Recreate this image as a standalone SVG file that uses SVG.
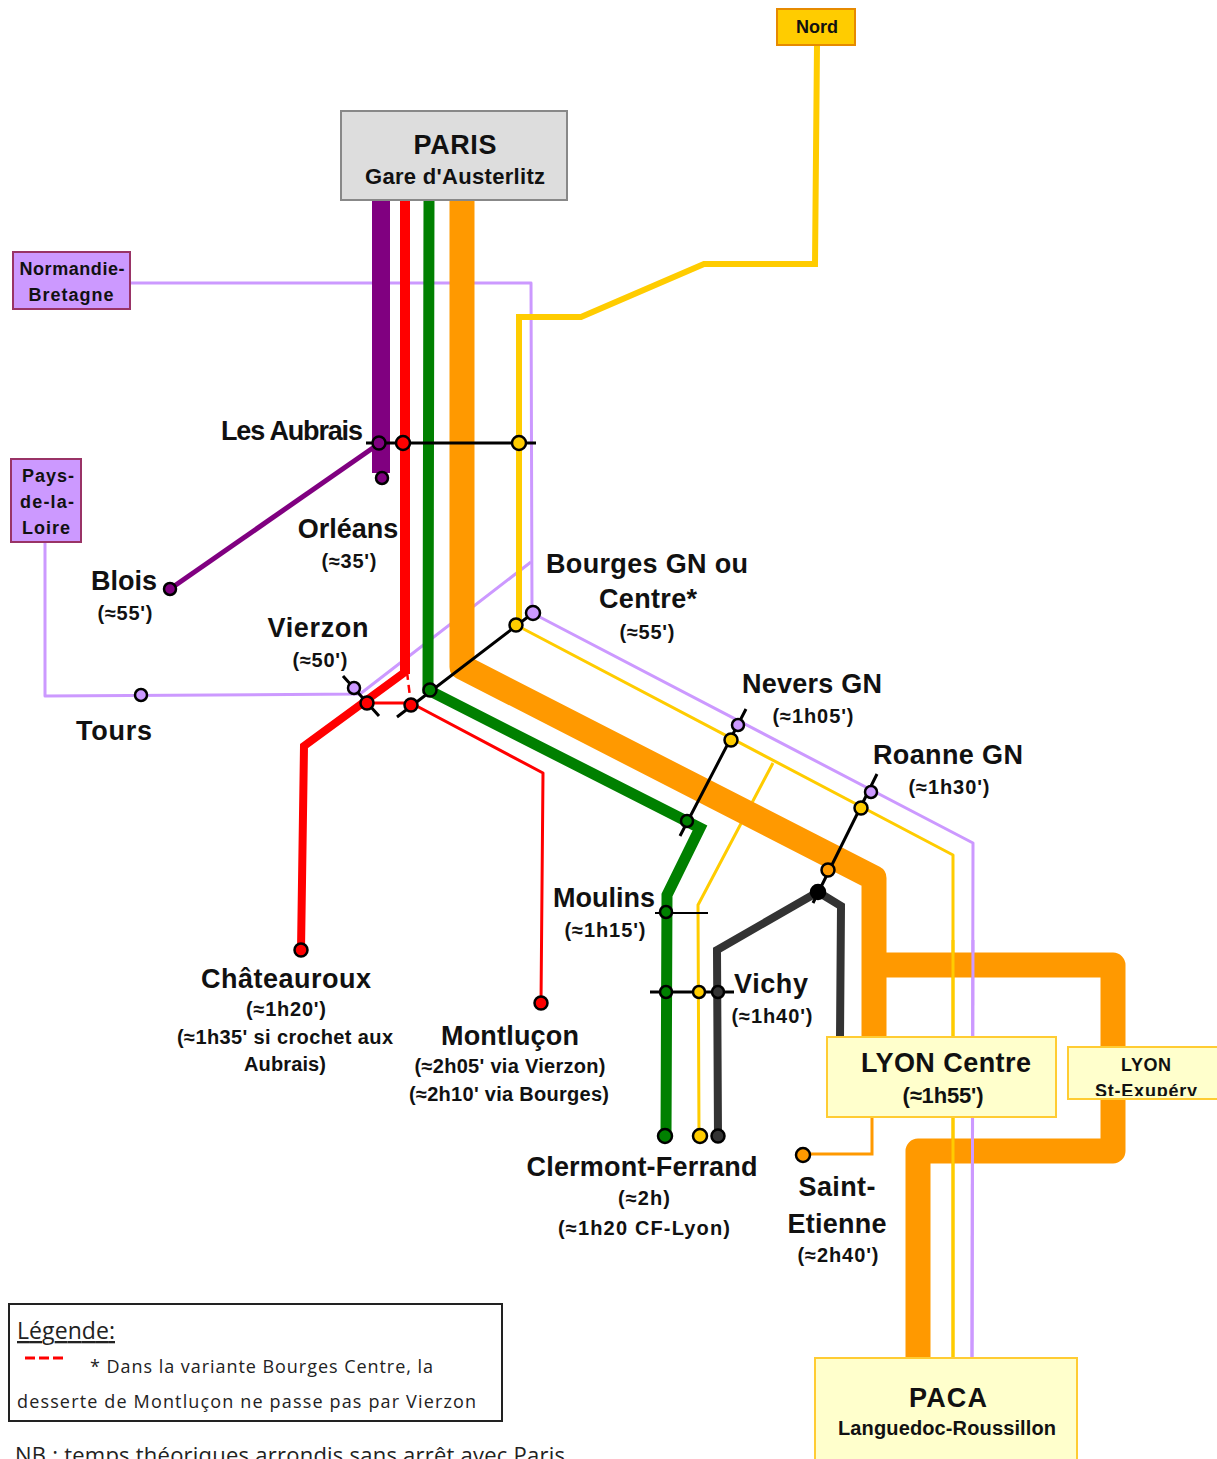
<svg xmlns="http://www.w3.org/2000/svg" width="1217" height="1459" viewBox="0 0 1217 1459">
<style>
text{font-family:"Liberation Sans",Arial,sans-serif;font-weight:bold;fill:#111;text-anchor:middle}
.l{font-size:27px}.m{font-size:22px}.s{font-size:20px}.n{font-size:18px}
.leg{font-family:"Open Sans","Noto Sans",sans-serif;font-weight:normal;text-anchor:start;fill:#222}
.r{fill:none;stroke-linejoin:round}
.t{fill:none;stroke-linejoin:miter}
.st{stroke:#000;stroke-width:2.5}
.bk{stroke:#000;fill:none}
.box{stroke-width:2}
.yb{fill:#FFFFCC;stroke:#FFCC33}
.pb{fill:#CC99FF;stroke:#993366}
</style>
<defs><clipPath id="cl"><rect x="1068" y="1047" width="149" height="49"/></clipPath></defs>
<rect width="1217" height="1459" fill="#fff"/>
<g id="connectors">
<path class="r" stroke="#CC99FF" stroke-width="3" d="M130 283H531L532 613L973 843L972 1358"/>
<path class="r" stroke="#CC99FF" stroke-width="3" d="M45 542V696L360 694L531 562"/>
<path class="r" stroke="#800080" stroke-width="18" d="M381 200V473"/>
<path class="r" stroke="#800080" stroke-width="5" d="M170 589L380 443"/>
<path class="r" stroke="#FF0000" stroke-width="3" d="M366 703H411L543 773L541 1003"/>
<path class="r" stroke="#FF0000" stroke-width="2.5" stroke-dasharray="8 5" d="M407 672L411 705"/>
<path class="t" stroke="#FF0000" stroke-width="8" d="M405 672L304 746L301 950"/>
<path class="r" stroke="#FF0000" stroke-width="10" d="M405 200V674"/>
<path class="r" stroke="#FFCC00" stroke-width="3" d="M773 763L698 905L699 1136"/>
<path class="r" stroke="#FFCC00" stroke-width="3" d="M516 625L953 855V1358"/>
<path class="t" stroke="#008000" stroke-width="11" d="M429 200L428 690L700 828L667 895L666 1136"/>
<path class="r" stroke="#FF9900" stroke-width="25" d="M462 200V667L874 878V1040"/>
<path class="r" stroke="#FF9900" stroke-width="25" d="M874 965H1113V1151H918V1358"/>
<path class="r" stroke="#FFCC00" stroke-width="3" d="M953 940V1358"/>
<path class="r" stroke="#CC99FF" stroke-width="3" d="M973 940L972 1358"/>
<path class="t" stroke="#FFCC00" stroke-width="6" d="M817 45L815 264H704L581 317H519V625"/>
<path class="t" stroke="#333" stroke-width="8" d="M718 1136L717 950L818 892L841 906L840 1038"/>
<path class="t" stroke="#FF9900" stroke-width="3" d="M872 1117V1154H803"/>
<path class="bk" stroke-width="3" d="M366 443H536M397 717L533 613M343 676L379 716M746 709L680 836M877 774L813 903M650 992H734"/>
<path class="bk" stroke-width="2" d="M655 913H708"/>
</g>
<g id="stations" class="st">
<circle cx="379" cy="443" r="6.5" fill="#800080"/><circle cx="403" cy="443" r="7" fill="#FF0000"/><circle cx="519" cy="443" r="7" fill="#FFCC00"/>
<circle cx="382" cy="478" r="6" fill="#800080"/><circle cx="170" cy="589" r="6" fill="#800080"/>
<circle cx="141" cy="695" r="6" fill="#CC99FF"/><circle cx="354" cy="688" r="6" fill="#CC99FF"/>
<circle cx="367" cy="703" r="6.5" fill="#FF0000"/><circle cx="411" cy="705" r="6.5" fill="#FF0000"/><circle cx="430" cy="690" r="6.5" fill="#008000"/>
<circle cx="516" cy="625" r="6.5" fill="#FFCC00"/><circle cx="533" cy="613" r="7" fill="#CC99FF"/>
<circle cx="738" cy="725" r="6" fill="#CC99FF"/><circle cx="731" cy="740" r="6.5" fill="#FFCC00"/><circle cx="687" cy="821" r="6" fill="#008000"/>
<circle cx="871" cy="792" r="6" fill="#CC99FF"/><circle cx="861" cy="808" r="6.5" fill="#FFCC00"/><circle cx="828" cy="870" r="6.5" fill="#FF9900"/>
<circle cx="818" cy="892" r="7" fill="#000"/>
<circle cx="666" cy="912" r="6" fill="#008000"/><circle cx="666" cy="992" r="6" fill="#008000"/><circle cx="699" cy="992" r="6" fill="#FFCC00"/><circle cx="718" cy="992" r="6" fill="#333"/>
<circle cx="665" cy="1136" r="7" fill="#008000"/><circle cx="700" cy="1136" r="7" fill="#FFCC00"/><circle cx="718" cy="1136" r="6.5" fill="#333"/>
<circle cx="301" cy="950" r="6.5" fill="#FF0000"/><circle cx="541" cy="1003" r="6.5" fill="#FF0000"/><circle cx="803" cy="1155" r="7" fill="#FF9900"/>
</g>
<g id="nord"><rect class="box" x="777" y="9" width="78" height="36" fill="#FFCC00" stroke="#E68A00"/><text class="n" x="817" y="33">Nord</text></g>
<g id="paris"><rect class="box" x="341" y="111" width="226" height="89" fill="#DDDDDD" stroke="#888"/><text class="l" x="455" y="154" textLength="83">PARIS</text><text class="m" x="455" y="184" textLength="180">Gare d'Austerlitz</text></g>
<g id="normandie"><rect class="box pb" x="13" y="252" width="117" height="57"/><text class="n" x="72" y="275" textLength="105">Normandie-</text><text class="n" x="71" y="301" textLength="85">Bretagne</text></g>
<g id="pays"><rect class="box pb" x="11" y="459" width="70" height="83"/><text class="n" x="48" y="482" textLength="52">Pays-</text><text class="n" x="47" y="508" textLength="54">de-la-</text><text class="n" x="46" y="534" textLength="48">Loire</text></g>
<g id="lyon-centre"><rect class="box yb" x="827" y="1037" width="229" height="80"/><text class="l" x="946" y="1072" textLength="170">LYON Centre</text><text class="m" x="943" y="1103" textLength="81">(≈1h55')</text></g>
<g id="lyon-st"><rect x="1068" y="1047" width="152" height="52" fill="#FFFFCC" stroke="#FFCC33" stroke-width="2"/><g clip-path="url(#cl)"><text class="n" x="1146" y="1071" textLength="50">LYON</text><text class="n" x="1146" y="1097" textLength="102">St-Exupéry</text></g></g>
<g id="paca"><rect class="box yb" x="815" y="1358" width="262" height="104"/><text class="l" x="948" y="1407" textLength="78">PACA</text><text class="s" x="947" y="1435" textLength="218">Languedoc-Roussillon</text></g>
<g id="labels">
<text class="l" x="292" y="440" textLength="142">Les Aubrais</text>
<text class="l" x="348" y="538">Orléans</text><text class="s" x="349" y="568" textLength="55">(≈35')</text>
<text class="l" x="124" y="590">Blois</text><text class="s" x="125" y="620" textLength="55">(≈55')</text>
<text class="l" x="318" y="637" textLength="101">Vierzon</text><text class="s" x="320" y="667" textLength="55">(≈50')</text>
<text class="l" x="114" y="740" textLength="76">Tours</text>
<text class="l" x="647" y="573" textLength="202">Bourges GN ou</text><text class="l" x="648" y="608" textLength="98">Centre*</text><text class="s" x="647" y="639" textLength="55">(≈55')</text>
<text class="l" x="812" y="693" textLength="140">Nevers GN</text><text class="s" x="813" y="723" textLength="81">(≈1h05')</text>
<text class="l" x="948" y="764" textLength="150">Roanne GN</text><text class="s" x="949" y="794" textLength="81">(≈1h30')</text>
<text class="l" x="604" y="907">Moulins</text><text class="s" x="605" y="937" textLength="81">(≈1h15')</text>
<text class="l" x="771" y="993" textLength="74">Vichy</text><text class="s" x="772" y="1023" textLength="81">(≈1h40')</text>
<text class="l" x="286" y="988" textLength="170">Châteauroux</text><text class="s" x="286" y="1016" textLength="80">(≈1h20')</text><text class="s" x="285" y="1044" textLength="216">(≈1h35' si crochet aux</text><text class="s" x="285" y="1071" textLength="82">Aubrais)</text>
<text class="l" x="510" y="1045" textLength="138">Montluçon</text><text class="s" x="510" y="1073" textLength="191">(≈2h05' via Vierzon)</text><text class="s" x="509" y="1101" textLength="200">(≈2h10' via Bourges)</text>
<text class="l" x="642" y="1176" textLength="231">Clermont-Ferrand</text><text class="s" x="644" y="1205" textLength="52">(≈2h)</text><text class="s" x="644" y="1235" textLength="172">(≈1h20 CF-Lyon)</text>
<text class="l" x="837" y="1196" textLength="77">Saint-</text><text class="l" x="837" y="1233" textLength="99">Etienne</text><text class="s" x="838" y="1262" textLength="81">(≈2h40')</text>
</g>
<g id="legende">
<rect x="9" y="1304" width="493" height="117" fill="#fff" stroke="#222" stroke-width="2"/>
<text class="leg" x="17" y="1339" font-size="23" textLength="98" text-decoration="underline">Légende:</text>
<path d="M25 1358H63" stroke="#FF0000" stroke-width="3" stroke-dasharray="10 4"/>
<text class="leg" x="90" y="1373" font-size="18" textLength="343">* Dans la variante Bourges Centre, la</text>
<text class="leg" x="17" y="1408" font-size="18" textLength="459">desserte de Montluçon ne passe pas par Vierzon</text>
</g>
<text class="leg" x="15" y="1463" font-size="22" textLength="550">NB : temps théoriques arrondis sans arrêt avec Paris</text>
</svg>
